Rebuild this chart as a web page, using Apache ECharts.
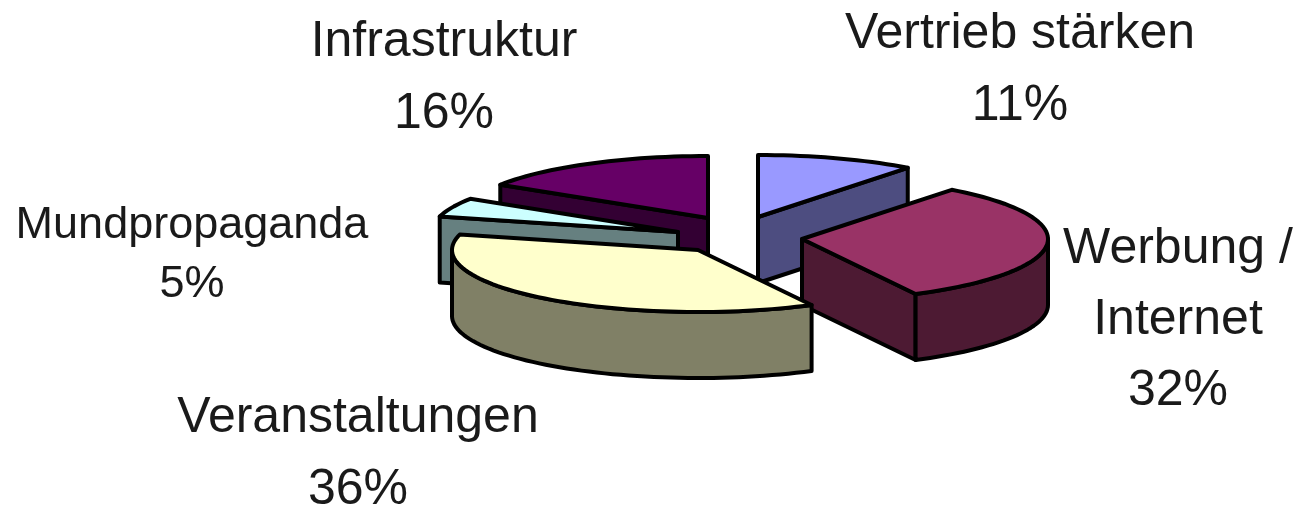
<!DOCTYPE html>
<html><head><meta charset="utf-8">
<style>html,body{margin:0;padding:0;background:#fff}#c{width:1296px;height:506px}</style>
<script src="https://cdn.jsdelivr.net/npm/echarts@6/dist/echarts.min.js"></script>
</head><body><div id="c"></div>
<script>
// Data (clockwise from 12 o'clock)
const categories = ['Vertrieb stärken', 'Werbung /\nInternet', 'Veranstaltungen', 'Mundpropaganda', 'Infrastruktur'];
const shares = [11, 32, 36, 5, 16];

// Styles
const topColors = ['#9999FF', '#993366', '#FFFFCC', '#CCFFFF', '#660066'];
const wallColors = ['#4D4D80', '#4D1A33', '#808066', '#668080', '#330033'];

// Layout of the tilted, exploded pie
const rx = 246, ry = 62, depth = 66;
const apexX = [758, 802, 698, 678, 708];
const apexY = [217, 239, 250, 232, 218];
const viewSkew = [0, -2.1, -2.3, 0, 0, 0]; // perspective shift of each slice boundary, degrees
const paintOrder = [2, 3, 4, 1, 0];
const labelX = [1020, 1178, 358, 192, 444];
const labelY = [70, 320, 454, 255, 78];
const labelSize = [50, 50, 50, 45, 50];
const labelLine = [72, 71, 72, 59, 72];

const total = shares.reduce((a, b) => a + b, 0);
const rad = d => d * Math.PI / 180;

function renderItem(params, api) {
  const i = params.dataIndex;
  const v = api.value(0);
  let before = 0;
  for (let k = 0; k < i; k++) before += shares[k];
  const t0 = before / total * 360 + viewSkew[i], t1 = (before + v) / total * 360 + viewSkew[i + 1];
  const ax = apexX[i], ay = apexY[i];
  const pt = (t, d) => [ax + rx * Math.sin(rad(t)), ay - ry * Math.cos(rad(t)) + (d || 0)];
  const arc = (a, b, d) => {
    const out = [];
    const n = Math.max(2, Math.ceil(Math.abs(b - a) / 2));
    for (let k = 0; k <= n; k++) out.push(pt(a + (b - a) * k / n, d));
    return out;
  };
  const z = paintOrder[i] * 10 + 1;
  const edge = { stroke: '#000', lineWidth: 4, lineJoin: 'round' };
  const poly = (points, fill, zz) => ({
    type: 'polygon', z2: zz, shape: { points },
    style: Object.assign({ fill }, edge)
  });
  const kids = [];
  const wall = wallColors[i];
  // cut faces toward the viewer
  if (Math.sin(rad(t0)) < -1e-6) {
    const p = pt(t0);
    kids.push(poly([[ax, ay], p, [p[0], p[1] + depth], [ax, ay + depth]], wall, z));
  }
  if (Math.sin(rad(t1)) > 1e-6) {
    const p = pt(t1);
    kids.push(poly([[ax, ay], p, [p[0], p[1] + depth], [ax, ay + depth]], wall, z));
  }
  // outer rim toward the viewer
  const a = Math.max(t0, 90), b = Math.min(t1, 270);
  if (b > a) {
    const rim = arc(a, b, 0).concat(arc(b, a, depth));
    kids.push(poly(rim, wall, z + 1));
  }
  // top face
  kids.push(poly([[ax, ay]].concat(arc(t0, t1, 0)), topColors[i], z + 2));
  // label
  kids.push({
    type: 'text', z2: 100,
    style: {
      text: categories[i] + '\n' + v + '%',
      x: labelX[i], y: labelY[i],
      fill: '#1a1a1a', align: 'center', verticalAlign: 'middle',
      fontFamily: '"Liberation Sans", Arial, sans-serif',
      fontSize: labelSize[i], lineHeight: labelLine[i]
    }
  });
  return { type: 'group', children: kids };
}

const chart = echarts.init(document.getElementById('c'), null, { renderer: 'canvas' });
chart.setOption({
  animation: false,
  backgroundColor: '#fff',
  series: [{
    type: 'custom',
    renderItem,
    coordinateSystem: 'none',
    encode: { value: 0 },
    data: shares.map((v, i) => ({ name: categories[i], value: [v] }))
  }]
});
</script></body></html>
